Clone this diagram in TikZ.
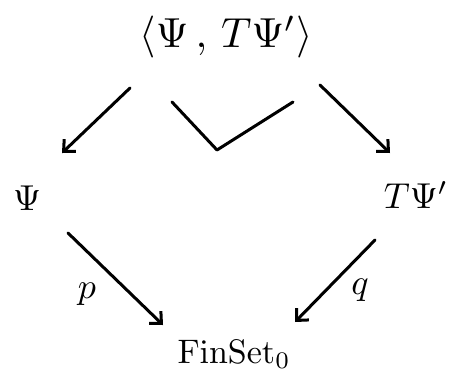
\documentclass[tikz,border=0pt]{standalone}
\usepackage{graphicx}
\usetikzlibrary{arrows.meta}
\newcommand{\bigobj}[2]{\scalebox{#1}{#2}}
\begin{document}
\begin{tikzpicture}[x=1pt,y=-1pt,
  obj/.style={inner sep=0pt},
  lbl/.style={inner sep=0pt},
  arr/.style={line width=3pt,line cap=round,line join=round,-{Straight Barb[length=9pt,width=17pt,line width=3pt]}},
  pbmark/.style={line width=3pt,line cap=round,line join=round}]
\useasboundingbox (0,0) rectangle (458,381);
\node[obj] (top) at (226,37) {\bigobj{4.2}{$\langle \Psi\,,\, T\Psi' \rangle$}};
\node[obj] (L) at (27,198) {\bigobj{3.6}{$\Psi$}};
\node[obj] (R) at (416,195) {\bigobj{3.6}{$T\Psi'$}};
\node[obj] (B) at (234,354) {\bigobj{3.4}{$\mathrm{FinSet}_0$}};
\coordinate (c1) at (172,102);
\coordinate (c2) at (217,150);
\coordinate (c3) at (293,102);
\draw[arr] (top) ++(-96,51) coordinate (ta) -- (62,153) coordinate (la);
\draw[arr] (top) ++(94,48) coordinate (tb) -- (390,153) coordinate (rb);
\draw[pbmark] (c1) -- (c2) -- (c3);
\draw[arr] (L) ++(41,35) coordinate (pa) -- (163,325) coordinate (pb);
\draw[arr] (R) ++(-41,45) coordinate (qa) -- (295,322) coordinate (qb);
\node[lbl] (p) at (87,294) {\bigobj{3.6}{$p$}};
\node[lbl] (q) at (360,290) {\bigobj{3.6}{$q$}};
\end{tikzpicture}
\end{document}
